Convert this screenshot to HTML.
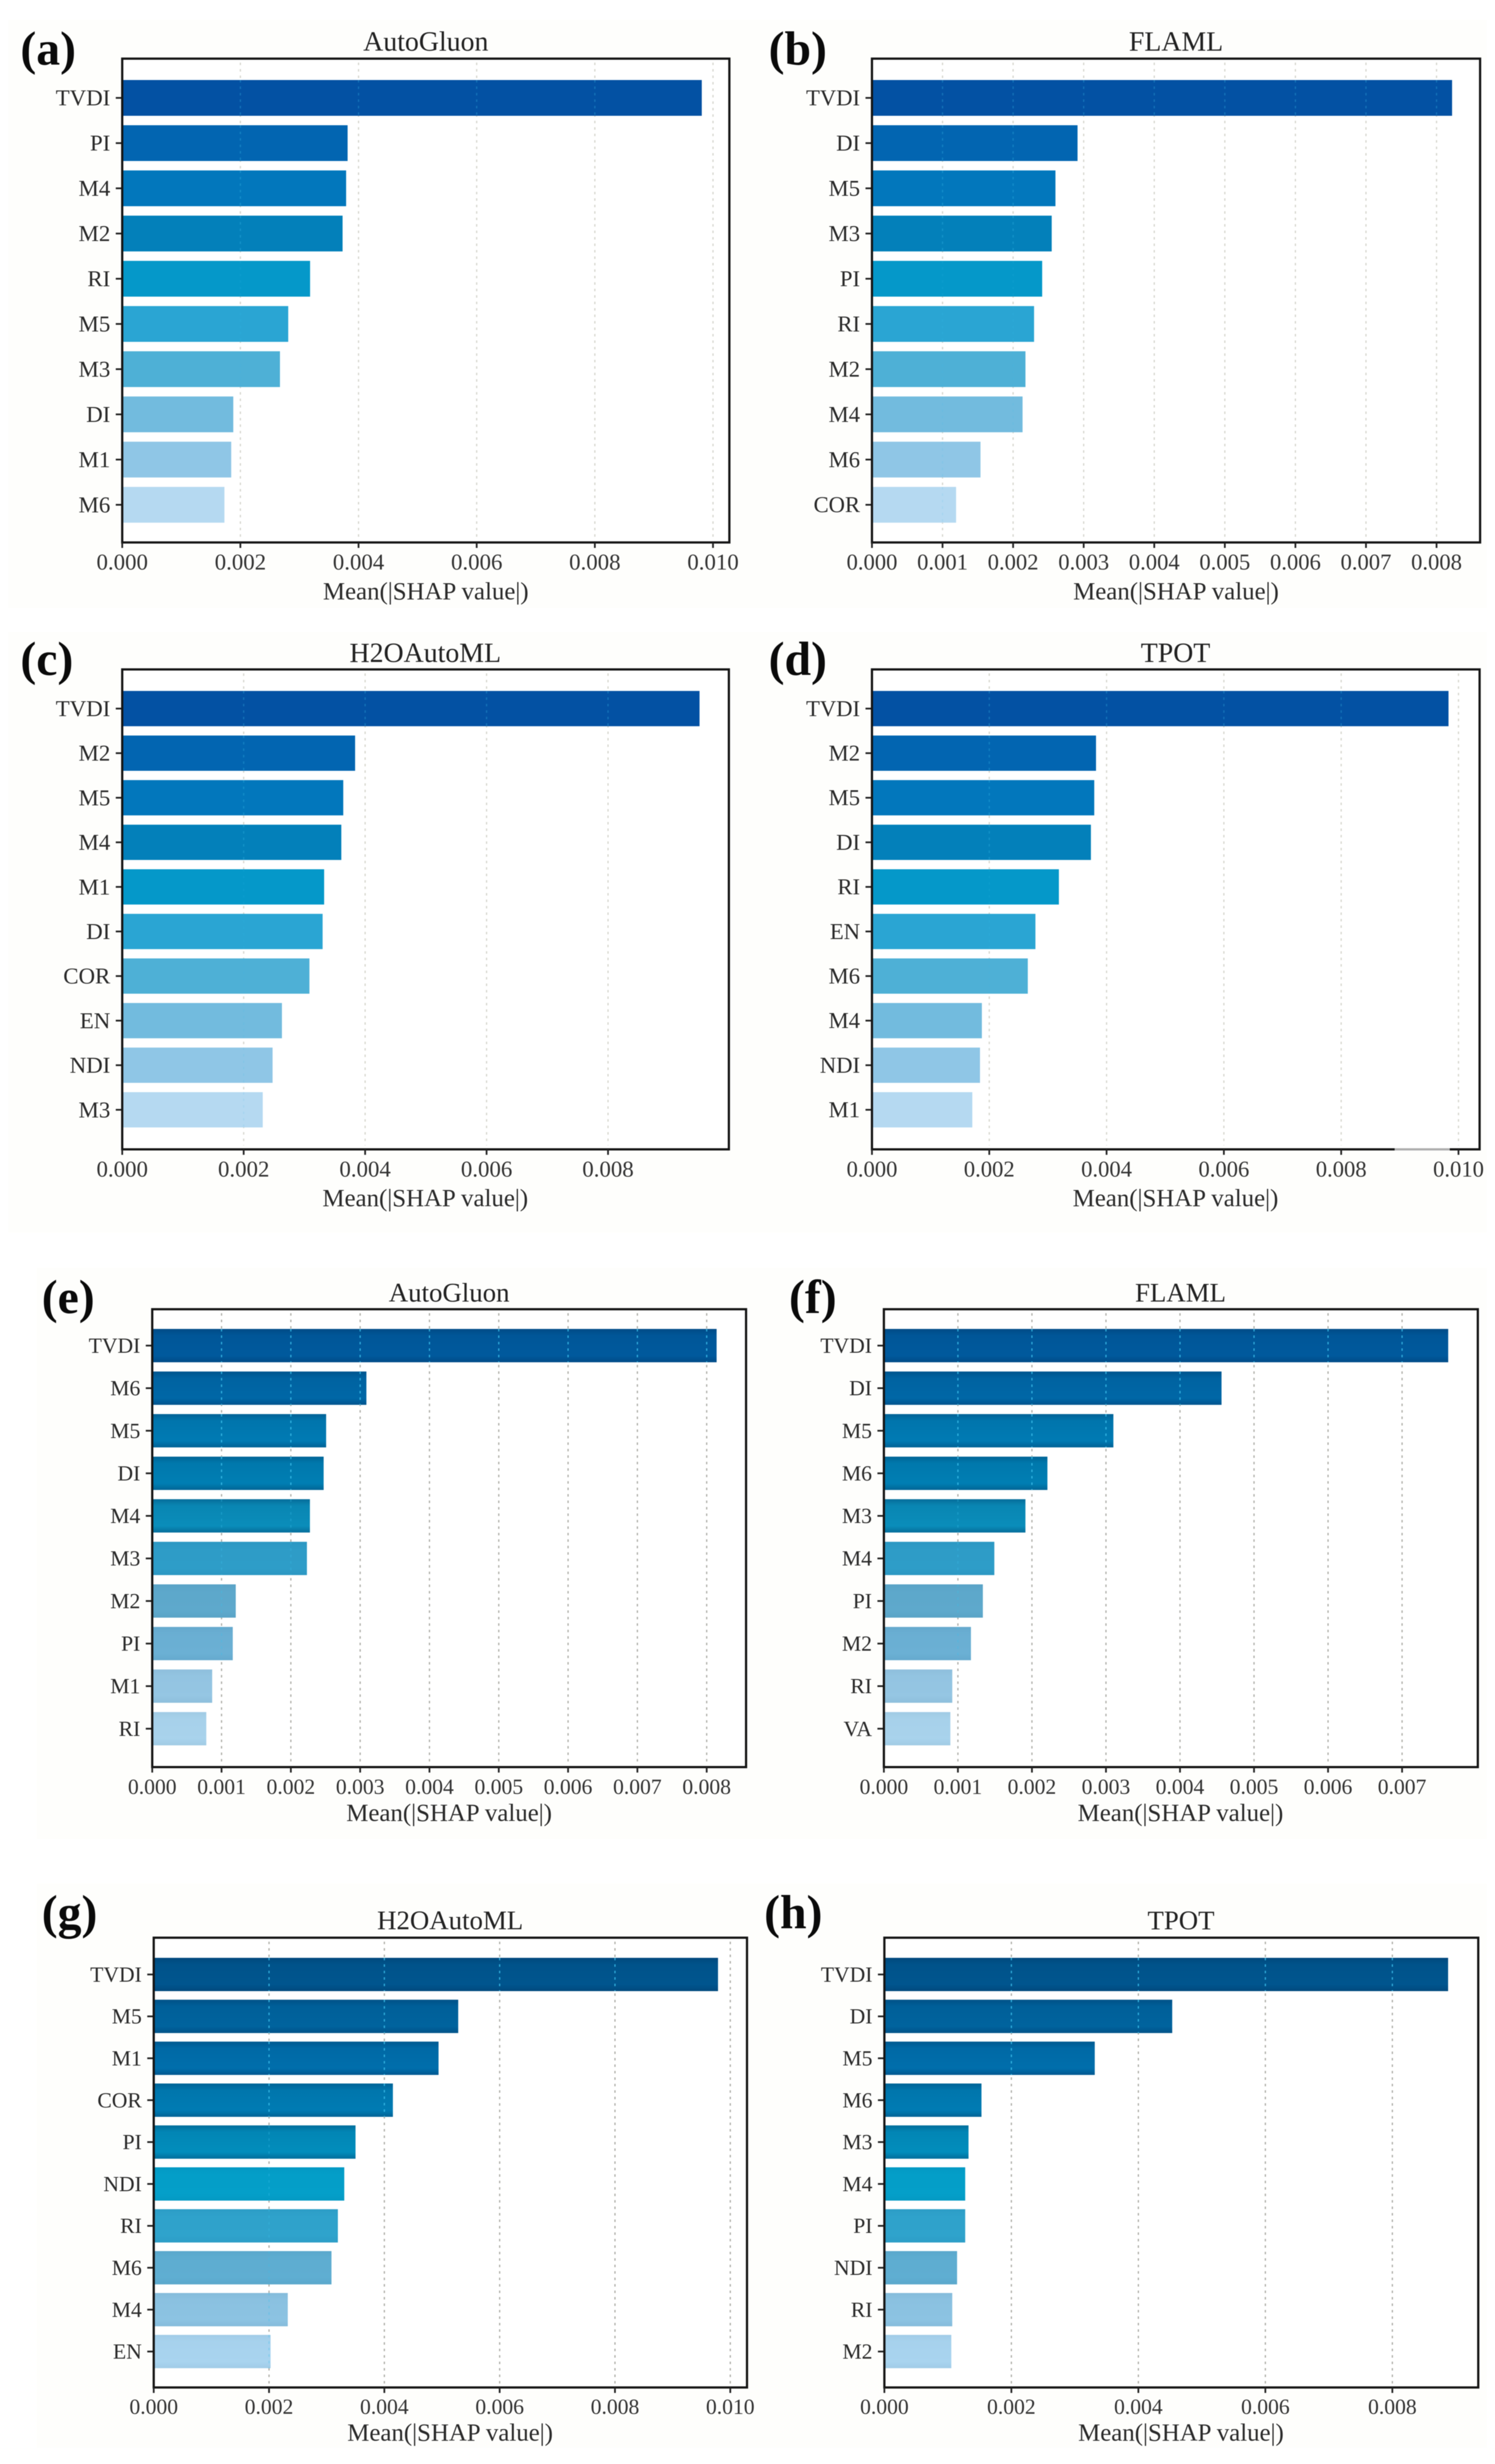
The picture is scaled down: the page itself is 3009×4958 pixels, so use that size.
<!DOCTYPE html>
<html lang="en">
<head>
<meta charset="utf-8">
<title>Mean SHAP value feature importance panels</title>
<style>
html,body{margin:0;padding:0;background:#fff;width:3009px;height:4958px;overflow:hidden}
svg{display:block;font-family:"Liberation Serif","DejaVu Serif",serif}
#figure-content{filter:blur(0.9px)}
.panel-label{font-size:96px;font-weight:bold;fill:#0a0a0a}
.title{fill:#222;text-anchor:middle}
.x-title{font-size:50px;fill:#2a2a2a;text-anchor:middle}
</style>
</head>
<body>
<svg id="figure" xmlns="http://www.w3.org/2000/svg" width="3009" height="4958" viewBox="0 0 3009 4958">
  <defs>
    <linearGradient id="edge-shade" x1="0" y1="0" x2="0" y2="1">
      <stop offset="0" stop-color="#00305c" stop-opacity="0.35"/>
      <stop offset="0.2" stop-color="#00305c" stop-opacity="0.1"/>
      <stop offset="0.8" stop-color="#00305c" stop-opacity="0.02"/>
      <stop offset="1" stop-color="#00305c" stop-opacity="0.35"/>
    </linearGradient>
  </defs>
  <g id="figure-content">
    <rect x="0" y="0" width="3009" height="4958" fill="#ffffff"/>
    <rect x="17" y="40" width="2975" height="1183" fill="#fefefc"/>
    <rect x="17" y="1272" width="2975" height="1208" fill="#fefefc"/>
    <rect x="74" y="2551" width="2918" height="1149" fill="#fefefc"/>
    <rect x="74" y="3790" width="2918" height="1135" fill="#fefefc"/>

    <g id="panel-a">
      <text class="panel-label" x="41" y="130">(a)</text>
      <text class="title" x="857" y="102" font-size="56">AutoGluon</text>
      <text class="x-title" x="857" y="1206">Mean(|SHAP value|)</text>
    </g>
    <g id="panel-b">
      <text class="panel-label" x="1547" y="130">(b)</text>
      <text class="title" x="2367" y="102" font-size="56">FLAML</text>
      <text class="x-title" x="2367" y="1206">Mean(|SHAP value|)</text>
    </g>
    <g id="panel-c">
      <text class="panel-label" x="41" y="1358">(c)</text>
      <text class="title" x="856" y="1332" font-size="56">H2OAutoML</text>
      <text class="x-title" x="856" y="2427">Mean(|SHAP value|)</text>
    </g>
    <g id="panel-d">
      <text class="panel-label" x="1547" y="1358">(d)</text>
      <text class="title" x="2366" y="1332" font-size="56">TPOT</text>
      <text class="x-title" x="2366" y="2427">Mean(|SHAP value|)</text>
    </g>
    <g id="panel-e">
      <text class="panel-label" x="84" y="2642">(e)</text>
      <text class="title" x="904" y="2619" font-size="54">AutoGluon</text>
      <text class="x-title" x="904" y="3664">Mean(|SHAP value|)</text>
    </g>
    <g id="panel-f">
      <text class="panel-label" x="1588" y="2642">(f)</text>
      <text class="title" x="2376" y="2619" font-size="54">FLAML</text>
      <text class="x-title" x="2376" y="3664">Mean(|SHAP value|)</text>
    </g>
    <g id="panel-g">
      <text class="panel-label" x="84" y="3880">(g)</text>
      <text class="title" x="906" y="3882" font-size="54">H2OAutoML</text>
      <text class="x-title" x="906" y="4911">Mean(|SHAP value|)</text>
    </g>
    <g id="panel-h">
      <text class="panel-label" x="1538" y="3880">(h)</text>
      <text class="title" x="2377" y="3882" font-size="54">TPOT</text>
      <text class="x-title" x="2377" y="4911">Mean(|SHAP value|)</text>
    </g>
  </g>
</svg>
<script>
/* ---- chart data ---- */
const categoriesA = ['TVDI','PI','M4','M2','RI','M5','M3','DI','M1','M6'];
const valuesA = [0.00981,0.003815,0.00379,0.00373,0.00318,0.00281,0.00267,0.00188,0.001845,0.00173];
const xTicksA = ['0.000','0.002','0.004','0.006','0.008','0.010'];

const categoriesB = ['TVDI','DI','M5','M3','PI','RI','M2','M4','M6','COR'];
const valuesB = [0.00822,0.002913,0.0026,0.002547,0.002412,0.002297,0.002175,0.002134,0.001538,0.001192];
const xTicksB = ['0.000','0.001','0.002','0.003','0.004','0.005','0.006','0.007','0.008'];

const categoriesC = ['TVDI','M2','M5','M4','M1','DI','COR','EN','NDI','M3'];
const valuesC = [0.009507,0.003835,0.00364,0.003608,0.003325,0.0033,0.003083,0.00263,0.002476,0.002314];
const xTicksC = ['0.000','0.002','0.004','0.006','0.008'];

const categoriesD = ['TVDI','M2','M5','DI','RI','EN','M6','M4','NDI','M1'];
const valuesD = [0.00983,0.00382,0.00379,0.003733,0.003187,0.002787,0.002657,0.001874,0.001842,0.001711];
const xTicksD = ['0.000','0.002','0.004','0.006','0.008','0.010'];

const categoriesE = ['TVDI','M6','M5','DI','M4','M3','M2','PI','M1','RI'];
const valuesE = [0.008143,0.00309,0.002509,0.002473,0.002275,0.002232,0.001205,0.001162,0.000865,0.00078];
const xTicksE = ['0.000','0.001','0.002','0.003','0.004','0.005','0.006','0.007','0.008'];

const categoriesF = ['TVDI','DI','M5','M6','M3','M4','PI','M2','RI','VA'];
const valuesF = [0.007623,0.004561,0.0031,0.002209,0.001912,0.001492,0.001337,0.001176,0.000924,0.000898];
const xTicksF = ['0.000','0.001','0.002','0.003','0.004','0.005','0.006','0.007'];

const categoriesG = ['TVDI','M5','M1','COR','PI','NDI','RI','M6','M4','EN'];
const valuesG = [0.009787,0.005281,0.00494,0.004148,0.0035,0.003305,0.003194,0.003083,0.002325,0.002027];
const xTicksG = ['0.000','0.002','0.004','0.006','0.008','0.010'];

const categoriesH = ['TVDI','DI','M5','M6','M3','M4','PI','NDI','RI','M2'];
const valuesH = [0.008878,0.004533,0.003313,0.001529,0.001325,0.001273,0.001273,0.001145,0.001069,0.001054];
const xTicksH = ['0.000','0.002','0.004','0.006','0.008'];

/* ---- style ---- */
const fillsRowsAB = ['#0351a3','#0265b1','#0277bc','#0380ba','#0598c9','#2aa5d3','#4eb0d6','#72bbde','#8fc6e6','#b5d9f1'];
const fillsRowE = ['#005a9e','#0068a8','#007cb5','#0080b5','#0a8fbc','#2e9dc8','#5ea9cc','#6bb0d4','#95c6e3','#a9d3ec'];
const fillsRowG = ['#00568f','#00649f','#006fad','#007db5','#028fbe','#049fc9','#2fa3cc','#5faed2','#8cc3e2','#a9d4ef'];

/* ---- layout ---- */
const layouts = [
  {id:'a',cats:categoriesA,vals:valuesA,ticks:xTicksA,left:246,right:1468,top:118,bottom:1091.5,xMax:0.010277,first:197,pitch:90.97,barH:72,font:46,tickBase:54.5,fills:fillsRowsAB,grid:'#d6d6ce',over:0.3,shade:false},
  {id:'b',cats:categoriesB,vals:valuesB,ticks:xTicksB,left:1755,right:2979,top:118,bottom:1091.5,xMax:0.008617,first:197,pitch:90.97,barH:72,font:45.5,tickBase:54.5,fills:fillsRowsAB,grid:'#d6d6ce',over:0.3,shade:false},
  {id:'c',cats:categoriesC,vals:valuesC,ticks:xTicksC,left:246,right:1467,top:1347,bottom:2312.7,xMax:0.00999,first:1425.8,pitch:89.7,barH:71,font:46,tickBase:55,fills:fillsRowsAB,grid:'#d6d6ce',over:0.3,shade:false},
  {id:'d',cats:categoriesD,vals:valuesD,ticks:xTicksD,left:1755,right:2978,top:1347,bottom:2312.7,xMax:0.01036,first:1425.8,pitch:89.7,barH:71,font:45.5,tickBase:55,fills:fillsRowsAB,grid:'#d6d6ce',over:0.3,shade:false},
  {id:'e',cats:categoriesE,vals:valuesE,ticks:xTicksE,left:306.4,right:1501.6,top:2634.4,bottom:3555.7,xMax:0.008568,first:2707.6,pitch:85.65,barH:67,font:43.5,tickBase:54,fills:fillsRowE,grid:'#adada7',over:0.8,shade:true},
  {id:'f',cats:categoriesF,vals:valuesF,ticks:xTicksF,left:1779,right:2974.4,top:2634.4,bottom:3555.7,xMax:0.008023,first:2707.6,pitch:85.65,barH:67,font:43.5,tickBase:54,fills:fillsRowE,grid:'#adada7',over:0.8,shade:true},
  {id:'g',cats:categoriesG,vals:valuesG,ticks:xTicksG,left:309.4,right:1503.5,top:3899,bottom:4804,xMax:0.01029,first:3973,pitch:84.3,barH:67,font:43.5,tickBase:53,fills:fillsRowG,grid:'#adada7',over:0.8,shade:true},
  {id:'h',cats:categoriesH,vals:valuesH,ticks:xTicksH,left:1780,right:2975.3,top:3899,bottom:4804,xMax:0.009353,first:3973,pitch:84.3,barH:67,font:43.5,tickBase:53,fills:fillsRowG,grid:'#adada7',over:0.8,shade:true}
];

const SVG_NS = 'http://www.w3.org/2000/svg';

function make(tag, parent) {
  const el = document.createElementNS(SVG_NS, tag);
  parent.appendChild(el);
  return el;
}

function drawPanel(p) {
  const root = document.getElementById('panel-' + p.id);
  const xScale = v => p.left + (v / p.xMax) * (p.right - p.left);
  const yScale = i => p.first + i * p.pitch;

  /* plot background */
  const plotBg = make('rect', root);
  
  
  plotBg.setAttribute('x', p.left);
  plotBg.setAttribute('y', p.top);
  plotBg.setAttribute('width', p.right - p.left);
  plotBg.setAttribute('height', p.bottom - p.top);
  plotBg.setAttribute('fill', '#ffffff');

  /* gridlines */
  p.ticks.forEach(label => {
    const tx = xScale(parseFloat(label));
    if (parseFloat(label) === 0) return;
    const g = make('line', root);
    
    
    g.setAttribute('x1', tx);
    g.setAttribute('x2', tx);
    g.setAttribute('y1', p.top + 8);
    g.setAttribute('y2', p.bottom - 8);
    g.setAttribute('stroke', p.grid);
    g.setAttribute('stroke-width', '2.5');
    g.setAttribute('stroke-dasharray', '5 8');
  });

  /* bars */
  p.vals.forEach((v, i) => {
    const bar = make('rect', root);
    
    
    bar.setAttribute('x', p.left);
    bar.setAttribute('y', yScale(i) - p.barH / 2);
    bar.setAttribute('width', xScale(v) - p.left);
    bar.setAttribute('height', p.barH);
    bar.setAttribute('fill', p.fills[i]);

    /* darker top and bottom edges of the bar */
    if (p.shade) {
      const shade = make('rect', root);
      
      
      shade.setAttribute('x', p.left);
      shade.setAttribute('y', yScale(i) - p.barH / 2);
      shade.setAttribute('width', xScale(v) - p.left);
      shade.setAttribute('height', p.barH);
      shade.setAttribute('fill', 'url(#edge-shade)');
      shade.setAttribute('opacity', i < 5 ? 1 : 0.15);
    }

    /* gridline showing through the bar */
    p.ticks.forEach(label => {
      const t = parseFloat(label);
      if (t === 0 || t >= v) return;
      const o = make('line', root);
      
      
      o.setAttribute('x1', xScale(t));
      o.setAttribute('x2', xScale(t));
      o.setAttribute('y1', yScale(i) - p.barH / 2);
      o.setAttribute('y2', yScale(i) + p.barH / 2);
      o.setAttribute('stroke', '#3cc0ec');
      o.setAttribute('stroke-width', '2.5');
      o.setAttribute('stroke-dasharray', '5 8');
      o.setAttribute('stroke-opacity', p.over * (i < 4 ? 1 : 0.4));
    });

    /* y tick */
    const yt = make('line', root);
    
    
    yt.setAttribute('x1', p.left - 13);
    yt.setAttribute('x2', p.left);
    yt.setAttribute('y1', yScale(i));
    yt.setAttribute('y2', yScale(i));
    yt.setAttribute('stroke', '#222');
    yt.setAttribute('stroke-width', '3.5');

    /* y label */
    const yl = make('text', root);
    
    
    yl.setAttribute('x', p.left - 24);
    yl.setAttribute('y', yScale(i) + p.font * 0.33);
    yl.setAttribute('text-anchor', 'end');
    yl.setAttribute('font-size', p.font);
    yl.setAttribute('fill', '#2a2a2a');
    yl.textContent = p.cats[i];
  });

  /* spines */
  const frame = make('rect', root);
  
  
  frame.setAttribute('x', p.left);
  frame.setAttribute('y', p.top);
  frame.setAttribute('width', p.right - p.left);
  frame.setAttribute('height', p.bottom - p.top);
  frame.setAttribute('fill', 'none');
  frame.setAttribute('stroke', '#141414');
  frame.setAttribute('stroke-width', '4.5');

  /* x ticks and labels */
  p.ticks.forEach(label => {
    const tx = xScale(parseFloat(label));
    const xt = make('line', root);
    
    
    xt.setAttribute('x1', tx);
    xt.setAttribute('x2', tx);
    xt.setAttribute('y1', p.bottom);
    xt.setAttribute('y2', p.bottom + 11);
    xt.setAttribute('stroke', '#222');
    xt.setAttribute('stroke-width', '3.5');

    const xl = make('text', root);
    
    
    xl.setAttribute('x', tx);
    xl.setAttribute('y', p.bottom + p.tickBase);
    xl.setAttribute('text-anchor', 'middle');
    xl.setAttribute('font-size', p.font);
    xl.setAttribute('fill', '#333');
    xl.textContent = label;
  });
}

layouts.forEach(drawPanel);

/* faded stretch of the bottom spine in panel (d), present in the original image */
const spineFade = make('line', document.getElementById('panel-d'));


spineFade.setAttribute('x1', '2807');
spineFade.setAttribute('x2', '2918');
spineFade.setAttribute('y1', '2312.7');
spineFade.setAttribute('y2', '2312.7');
spineFade.setAttribute('stroke', '#ffffff');
spineFade.setAttribute('stroke-opacity', '0.65');
spineFade.setAttribute('stroke-width', '6');
</script>
</body>
</html>
